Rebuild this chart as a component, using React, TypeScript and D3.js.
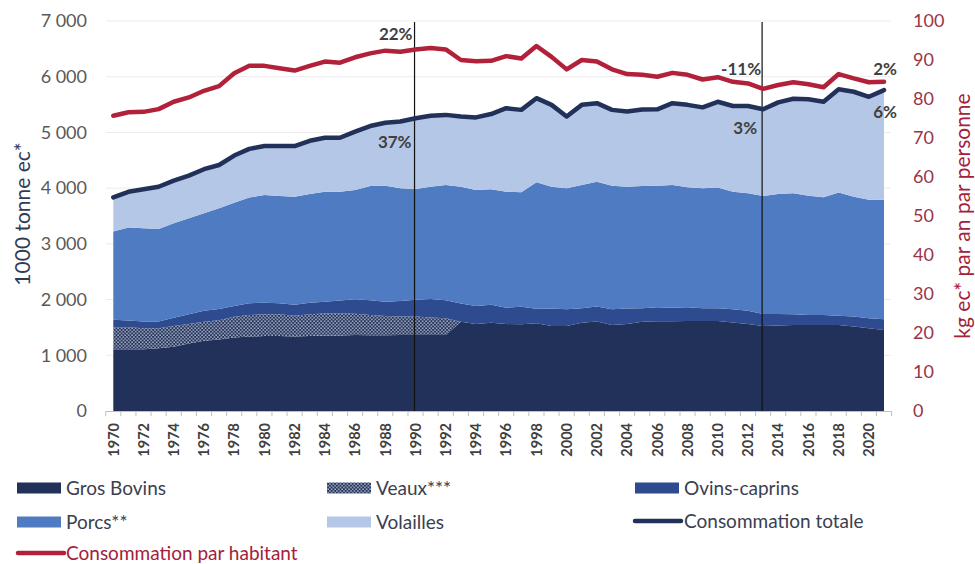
import React from "react";
import * as d3 from "d3";

const years: number[] = d3.range(1970, 2022);

const grosBovins = [1110,1110,1110,1125,1155,1210,1260,1285,1320,1335,1345,1345,1335,1345,1355,1355,1365,1360,1360,1365,1365,1365,1365,1600,1560,1585,1560,1555,1575,1525,1525,1585,1605,1545,1560,1600,1610,1610,1615,1615,1615,1590,1560,1525,1535,1545,1545,1545,1545,1515,1485,1455];
const veaux = [395,395,375,360,370,350,340,345,370,390,390,390,375,390,395,395,380,365,345,330,330,315,300,0,0,0,0,0,0,0,0,0,0,0,0,0,0,0,0,0,0,0,0,0,0,0,0,0,0,0,0,0];
const ovinsCaprins = [135,120,120,120,150,175,200,200,195,210,210,200,195,210,210,235,260,265,255,280,300,330,325,330,325,320,295,315,260,315,300,260,270,280,280,245,250,245,245,230,230,235,240,215,205,190,180,180,165,180,180,190];
const porcs = [1580,1670,1675,1660,1695,1725,1750,1810,1855,1895,1930,1925,1940,1950,1975,1950,1960,2050,2085,2025,1990,2015,2065,2095,2080,2075,2080,2055,2270,2185,2175,2210,2240,2220,2185,2195,2185,2200,2155,2155,2165,2110,2110,2120,2155,2175,2140,2110,2210,2150,2125,2145];
const volailles = [615,640,700,760,765,765,790,775,845,875,880,895,910,955,970,970,1050,1075,1130,1195,1270,1275,1260,1260,1305,1350,1500,1480,1510,1470,1285,1440,1410,1360,1350,1370,1370,1470,1480,1450,1540,1540,1565,1555,1645,1695,1730,1715,1855,1885,1850,1970];
const parHabitant = [75.7,76.6,76.7,77.4,79.3,80.4,82.1,83.3,86.6,88.5,88.5,87.9,87.3,88.5,89.6,89.3,90.7,91.7,92.4,92.1,92.7,93.1,92.7,90.0,89.7,89.8,91.0,90.4,93.6,90.8,87.6,90.0,89.6,87.6,86.4,86.2,85.7,86.7,86.2,85.0,85.6,84.4,84.0,82.6,83.6,84.3,83.8,83.0,86.4,85.3,84.3,84.4];

const leftTicks = [0, 1000, 2000, 3000, 4000, 5000, 6000, 7000];
const leftTickLabels = ["0", "1 000", "2 000", "3 000", "4 000", "5 000", "6 000", "7 000"];
const rightTicks = [0, 10, 20, 30, 40, 50, 60, 70, 80, 90, 100];
const markerYears = [1990, 2013];

const seriesKeys = ["grosBovins", "veaux", "ovins", "porcs", "volailles"];
const seriesNames = ["Gros Bovins", "Veaux***", "Ovins-caprins", "Porcs**", "Volailles"];
const seriesColors = ["#22315A", "url(#veauxPattern)", "#2D4B8E", "#4E7BC1", "#B4C7E7"];

const FONT = "Lato, 'Open Sans', sans-serif";
const NAVY = "#22315A";
const RED = "#B2213A";

export default function App() {
  const table = years.map((yr, i) => ({
    year: yr,
    grosBovins: grosBovins[i],
    veaux: veaux[i],
    ovins: ovinsCaprins[i],
    porcs: porcs[i],
    volailles: volailles[i],
  }));
  const totals = table.map((d) => d.grosBovins + d.veaux + d.ovins + d.porcs + d.volailles);

  const x = d3.scaleLinear().domain([1970, 2021]).range([113.3, 884]);
  const yL = d3.scaleLinear().domain([0, 7000]).range([411, 21]);
  const yR = d3.scaleLinear().domain([0, 100]).range([411, 21]);
  const step = x(1971) - x(1970);

  const stack = d3.stack<any>().keys(seriesKeys)(table);
  const area = d3
    .area<any>()
    .x((d) => x(d.data.year))
    .y0((d) => yL(d[0]))
    .y1((d) => yL(d[1]));

  const totalLine = d3
    .line<number>()
    .x((_, i) => x(years[i]))
    .y((d) => yL(d));
  const habLine = d3
    .line<number>()
    .x((_, i) => x(years[i]))
    .y((d) => yR(d));

  const tickYears = d3.range(1970, 2023);
  const labelYears = years.filter((y) => y % 2 === 0);

  return (
    <svg
      width={975}
      height={564}
      style={{ position: "absolute", left: 0, top: 0, background: "#fff" }}
      fontFamily={FONT}
    >
      <defs>
        <pattern id="veauxPattern" width={3.5} height={3.5} patternUnits="userSpaceOnUse">
          <rect width={3.5} height={3.5} fill={NAVY} />
          <circle cx={0.9} cy={0.9} r={0.75} fill="#E4EAF6" />
          <circle cx={2.65} cy={2.65} r={0.75} fill="#E4EAF6" />
        </pattern>
      </defs>

      {/* gridlines */}
      {leftTicks.slice(1).map((t) => (
        <line key={t} x1={106} x2={891} y1={yL(t)} y2={yL(t)} stroke="#EBEBEB" strokeWidth={1} />
      ))}

      {/* stacked areas */}
      {stack.map((s, i) => (
        <path key={s.key} d={area(s) || ""} fill={seriesColors[i]} />
      ))}

      {/* x axis */}
      <line x1={x(1970) - step / 2} x2={x(2021) + step / 2} y1={411.5} y2={411.5} stroke="#BFBFBF" />
      {tickYears.map((yr) => (
        <line
          key={yr}
          x1={x(yr) - step / 2}
          x2={x(yr) - step / 2}
          y1={411.5}
          y2={416}
          stroke="#BFBFBF"
        />
      ))}
      {labelYears.map((yr) => (
        <text
          key={yr}
          transform={`translate(${x(yr)},423) rotate(-90)`}
          textAnchor="end"
          dy="0.36em"
          fontSize={14.5}
          fontWeight={700}
          fill="#404040"
        >
          {yr}
        </text>
      ))}

      {/* vertical markers */}
      {markerYears.map((yr) => (
        <line key={yr} x1={x(yr) - 1} x2={x(yr) - 1} y1={22} y2={411} stroke="#111" strokeWidth={1.2} />
      ))}

      {/* lines */}
      <path d={totalLine(totals) || ""} fill="none" stroke={NAVY} strokeWidth={4.5} strokeLinejoin="round" strokeLinecap="round" />
      <path d={habLine(parHabitant) || ""} fill="none" stroke={RED} strokeWidth={4.5} strokeLinejoin="round" strokeLinecap="round" />

      {/* left axis labels */}
      {leftTicks.map((t, i) => (
        <text key={t} x={87} y={yL(t)} dy="0.35em" textAnchor="end" fontSize={18} fill="#595959">
          {leftTickLabels[i]}
        </text>
      ))}
      <text
        transform="translate(23,214) rotate(-90)"
        textAnchor="middle"
        dy="0.35em"
        fontSize={21}
        fill="#2F3B57"
      >
        1000 tonne ec*
      </text>

      {/* right axis labels */}
      {rightTicks.map((t) => (
        <text key={t} x={913} y={yR(t)} dy="0.35em" textAnchor="start" fontSize={18} fill="#9A3447">
          {t}
        </text>
      ))}
      <text
        transform="translate(963,216) rotate(-90)"
        textAnchor="middle"
        dy="0.35em"
        fontSize={21}
        fill="#A3213A"
      >
        kg ec* par an par personne
      </text>

      {/* annotations */}
      <g fontSize={17} fontWeight={700} fill="#404040">
        <text x={x(1990) - 3} y={34} dy="0.35em" textAnchor="end">22%</text>
        <text x={x(1990) - 4} y={142} dy="0.35em" textAnchor="end">37%</text>
        <text x={x(2013) - 2} y={69} dy="0.35em" textAnchor="end">-11%</text>
        <text x={x(2013) - 6} y={128} dy="0.35em" textAnchor="end">3%</text>
        <text x={897} y={69} dy="0.35em" textAnchor="end">2%</text>
        <text x={897} y={112} dy="0.35em" textAnchor="end">6%</text>
      </g>

      {/* legend */}
      <g fontSize={19} fill="#3A4050">
        {[
          { i: 0, sx: 17, ty: 488 },
          { i: 1, sx: 327, ty: 488 },
          { i: 2, sx: 635, ty: 488 },
          { i: 3, sx: 17, ty: 522 },
          { i: 4, sx: 327, ty: 522 },
        ].map(({ i, sx, ty }) => (
          <g key={i}>
            <rect x={sx} y={ty - 5.5} width={44} height={11} fill={seriesColors[i]} />
            <text x={sx + 49} y={ty} dy="0.35em">{seriesNames[i]}</text>
          </g>
        ))}
        <line x1={635} x2={681} y1={521} y2={521} stroke={NAVY} strokeWidth={4.5} strokeLinecap="round" />
        <text x={684} y={521} dy="0.35em">Consommation totale</text>
        <line x1={18} x2={64} y1={553} y2={553} stroke={RED} strokeWidth={4.5} strokeLinecap="round" />
        <text x={66} y={553} dy="0.35em" fill="#A3213A">Consommation par habitant</text>
      </g>
    </svg>
  );
}
